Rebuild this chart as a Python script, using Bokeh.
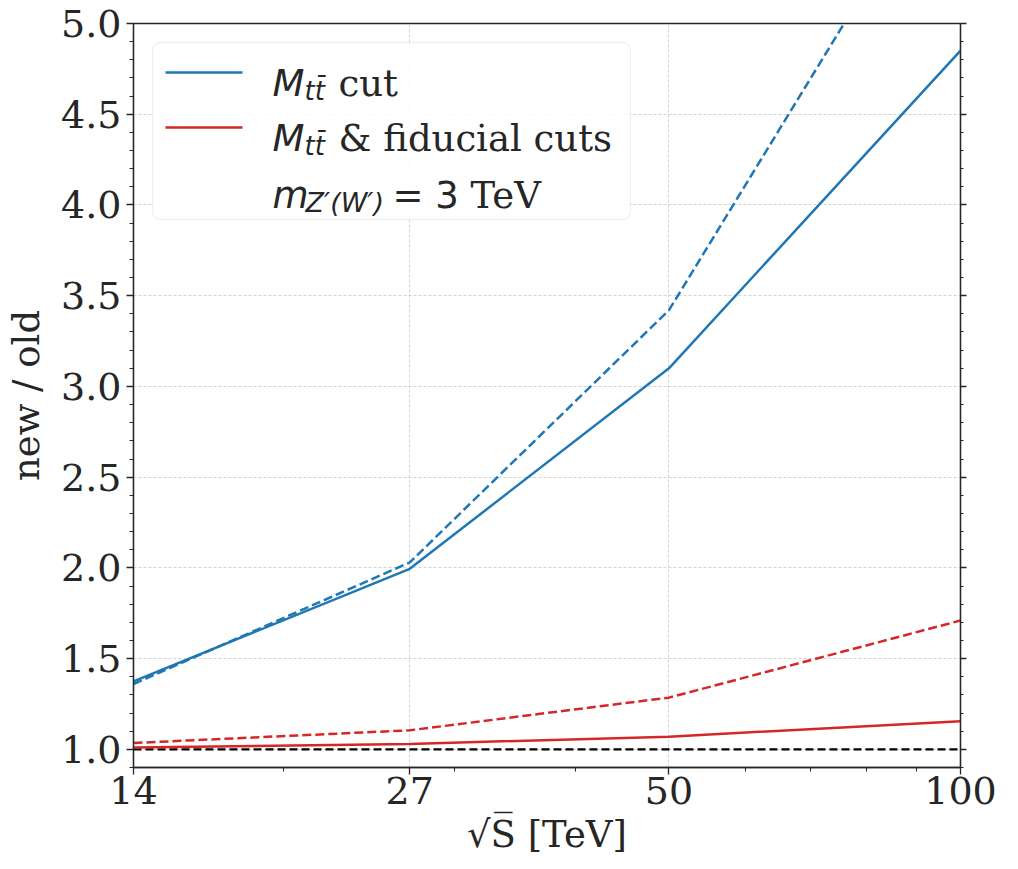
from bokeh.plotting import figure
from bokeh.models import (Range1d, FixedTicker, SingleIntervalTicker, LinearAxis,
                          CustomJSTickFormatter, BoxAnnotation, Label)
from bokeh.embed import file_html
from bokeh.resources import INLINE

# ---- data ----
energies = [14, 27, 50, 100]
mtt_cut = [1.375, 1.995, 3.10, 4.85]
mtt_cut_dashed = [1.36, 2.03, 3.42, 6.05]
fid_cut = [1.01, 1.03, 1.07, 1.155]
fid_cut_dashed = [1.035, 1.105, 1.285, 1.71]
ref_line = [1.0, 1.0, 1.0, 1.0]
x_ticks = [14, 27, 50, 100]
x_minor = [20, 30, 40, 60, 70, 80, 90]

BLUE = "#1f77b4"
RED = "#d62728"
INK = "#262626"
SERIF = "DejaVu Serif"
SANS = "DejaVu Sans"

p = figure(width=1010, height=861, x_axis_type="log",
           x_range=Range1d(14, 100), y_range=Range1d(0.9, 5.0),
           output_backend="svg", toolbar_location=None,
           min_border_left=133, min_border_right=50, min_border_top=23,
           min_border_bottom=94)
p.background_fill_color = "white"
p.border_fill_color = "white"
p.outline_line_color = INK
p.outline_line_width = 1.3

# grids
for g in (p.xgrid, p.ygrid):
    g.grid_line_color = "#c8c8c8"
    g.grid_line_dash = "3 2"
    g.grid_line_width = 0.8

# x axis
xa = p.xaxis[0]
xa.ticker = FixedTicker(ticks=x_ticks, minor_ticks=x_minor)
xa.formatter = CustomJSTickFormatter(code="return String(Math.round(tick));")
xa.axis_label = "√S̅ [TeV]"

ya = p.yaxis[0]
ya.ticker = SingleIntervalTicker(interval=0.5, num_minor_ticks=5)
ya.formatter = CustomJSTickFormatter(code="return tick.toFixed(1);")
ya.axis_label = "new / old"

for ax in (xa, ya):
    ax.axis_line_color = INK
    ax.axis_line_width = 1.3
    ax.major_tick_line_color = INK
    ax.minor_tick_line_color = INK
    ax.major_tick_line_width = 1.3
    ax.minor_tick_line_width = 1.0
    ax.major_tick_out = 7
    ax.major_tick_in = 0
    ax.minor_tick_out = 4
    ax.minor_tick_in = 0
    ax.major_label_text_font = SERIF
    ax.major_label_text_font_size = "38px"
    ax.major_label_text_color = INK
    ax.axis_label_text_font = SERIF
    ax.axis_label_text_font_size = "37px"
    ax.axis_label_text_font_style = "normal"
    ax.axis_label_text_color = INK
xa.major_label_standoff = 2
xa.axis_label_standoff = 6
ya.major_label_standoff = 5
ya.axis_label_standoff = 10

# right axis (ticks only)
ra = LinearAxis(ticker=SingleIntervalTicker(interval=0.5, num_minor_ticks=5),
                formatter=CustomJSTickFormatter(code="return '';"))
ra.axis_line_color = INK
ra.axis_line_width = 1.3
ra.major_tick_line_color = INK
ra.minor_tick_line_color = INK
ra.major_tick_line_width = 1.3
ra.major_tick_out = 6
ra.major_tick_in = 0
ra.minor_tick_out = 3
ra.minor_tick_in = 0
ra.major_label_text_font_size = "1px"
p.add_layout(ra, "right")

# ---- lines ----
p.line(energies, ref_line, line_color="black", line_width=2.2, line_dash="8 4")
p.line(energies, mtt_cut, line_color=BLUE, line_width=2.5)
p.line(energies, mtt_cut_dashed, line_color=BLUE, line_width=2.5, line_dash="9 4")
p.line(energies, fid_cut, line_color=RED, line_width=2.5)
p.line(energies, fid_cut_dashed, line_color=RED, line_width=2.5, line_dash="9 4")

# ---- legend (custom, frame-relative screen px, y up) ----
p.add_layout(BoxAnnotation(left=19, right=497, top=725, bottom=548,
                           left_units="screen", right_units="screen",
                           top_units="screen", bottom_units="screen",
                           fill_color="white", fill_alpha=0.85,
                           line_color="#cccccc", line_width=1.3,
                           border_radius=8, level="annotation"))
for yc, col in ((695, BLUE), (640, RED)):
    p.add_layout(BoxAnnotation(left=32, right=109, top=yc + 1.25, bottom=yc - 1.25,
                               left_units="screen", right_units="screen",
                               top_units="screen", bottom_units="screen",
                               fill_color=col, fill_alpha=1.0, line_color=None,
                               level="annotation"))


def lab(x, y, text, font, size, style="normal"):
    p.add_layout(Label(x=x, y=y, x_units="screen", y_units="screen", text=text,
                       text_font=font, text_font_size=size, text_font_style=style,
                       text_color=INK, text_baseline="alphabetic",
                       text_align="left", level="annotation"))


for base, rest in ((684, "cut"), (629, "& fiducial cuts")):
    lab(139, base, "M", SANS, "37px", "italic")
    lab(171, base - 7, "tt̄", SANS, "26px", "italic")
    lab(205, base, rest, SERIF, "37px")
lab(139, 572, "m", SANS, "37px", "italic")
lab(172, 565, "Z′(W′)", SANS, "27px", "italic")
lab(259, 572, "= 3", SANS, "37px")
lab(337, 572, "TeV", SERIF, "37px")

open("out.html", "w").write(file_html(p, INLINE))
